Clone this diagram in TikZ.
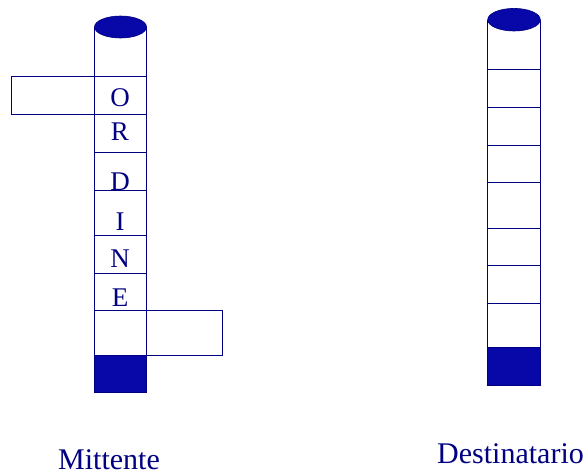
\documentclass[tikz,border=0pt]{standalone}
\usepackage{fontspec}
\setmainfont{Liberation Serif}
\usetikzlibrary{positioning}

\definecolor{navy}{RGB}{0,0,128}
\definecolor{deepblue}{RGB}{8,8,168}

\tikzset{
  tube/.style={draw=navy,line width=1pt},
  lidfill/.style={draw=navy,fill=deepblue,line width=.6pt},
  letter/.style={anchor=base,text=navy,font=\fontsize{27}{27}\selectfont,inner sep=0pt},
  caption/.style={anchor=base,text=navy,font=\fontsize{30}{30}\selectfont,inner sep=0pt}
}

\begin{document}
\begin{tikzpicture}[x=1pt,y=-1pt]
  \useasboundingbox (0,0) rectangle (585,475);

  % Sender tube
  \draw[tube] (94.5,27) -- (94.5,392.7);
  \draw[tube] (146.5,27) -- (146.5,392.7);
  \foreach \y in {76.7,114.7,152.3,190,235.5,273.3,310.7} {
    \draw[tube] (94.5,\y) -- (146.5,\y);
  }
  \draw[lidfill] (94.5,355.7) rectangle (146.5,392.7);
  \draw[lidfill] (120.5,27) ellipse (26 and 11);

  % boxes leaving and entering
  \draw[tube] (11.3,76.7) rectangle (94.5,114.7);
  \draw[tube] (146.5,310.7) rectangle (222.3,355.7);

  % the letters of the word
  \node[letter] (o) at (120,106) {O};
  \node[letter] (r) at (120,140) {R};
  \node[letter] (d) at (120,190) {D};
  \node[letter] (i) at (120,230) {I};
  \node[letter] (n) at (120,267.3) {N};
  \node[letter] (e) at (120,306) {E};

  % Receiver tube
  \draw[tube] (487.7,20) -- (487.7,385.3);
  \draw[tube] (540.3,20) -- (540.3,385.3);
  \foreach \y in {69.3,107.3,145,182.7,228.3,265.3,303.3} {
    \draw[tube] (487.7,\y) -- (540.3,\y);
  }
  \draw[lidfill] (487.7,347.7) rectangle (540.3,385.3);
  \draw[lidfill] (514,19.7) ellipse (26.3 and 11.3);

  % captions
  \node[caption] (mittente) at (109,469.5) {Mittente};
  \node[caption] (destinatario) at (510.5,463.3) {Destinatario};
\end{tikzpicture}
\end{document}
